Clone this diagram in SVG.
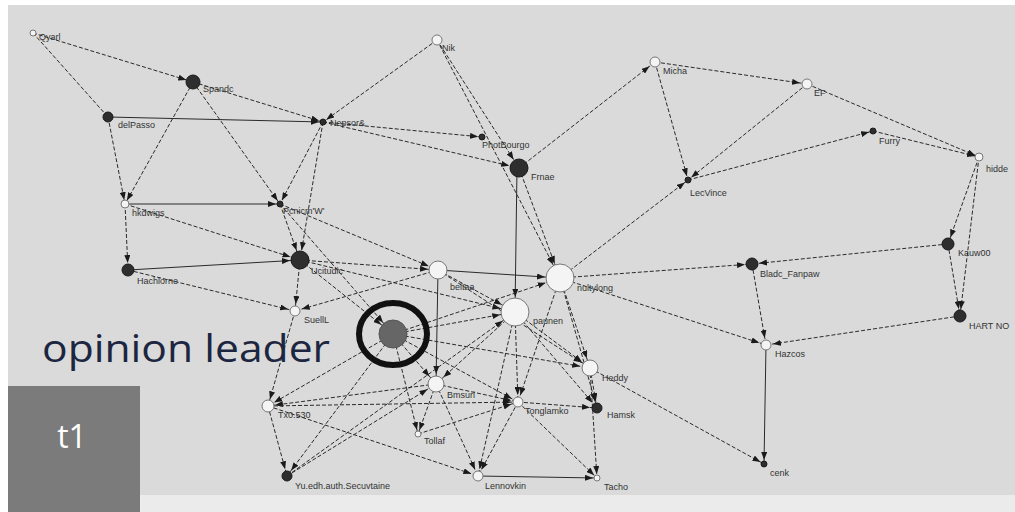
<svg xmlns="http://www.w3.org/2000/svg" width="1015" height="512" viewBox="0 0 1015 512">
<style>
.e{stroke:#2a2a2a;stroke-width:1;fill:none;stroke-dasharray:4 2}
.s{stroke:#2a2a2a;stroke-width:1;fill:none}
.d{fill:#2e2e2e;stroke:#1a1a1a;stroke-width:1}
.w{fill:#f4f4f4;stroke:#777;stroke-width:1}
.l{font-family:"Liberation Sans",Arial,sans-serif;font-size:9px;fill:#333}
</style>
<defs>
<marker id="a4" viewBox="0 0 8 6" refX="12" refY="3" markerWidth="8" markerHeight="6" markerUnits="userSpaceOnUse" orient="auto"><path d="M0,0L8,3L0,6z" fill="#1a1a1a"/></marker>
<marker id="a7" viewBox="0 0 8 6" refX="15" refY="3" markerWidth="8" markerHeight="6" markerUnits="userSpaceOnUse" orient="auto"><path d="M0,0L8,3L0,6z" fill="#1a1a1a"/></marker>
<marker id="a10" viewBox="0 0 8 6" refX="18" refY="3" markerWidth="8" markerHeight="6" markerUnits="userSpaceOnUse" orient="auto"><path d="M0,0L8,3L0,6z" fill="#1a1a1a"/></marker>
<marker id="a15" viewBox="0 0 8 6" refX="23" refY="3" markerWidth="8" markerHeight="6" markerUnits="userSpaceOnUse" orient="auto"><path d="M0,0L8,3L0,6z" fill="#1a1a1a"/></marker>
</defs>
<rect x="0" y="0" width="1015" height="512" fill="#ffffff"/>
<rect x="8" y="5" width="1007" height="490" fill="#dadada"/>
<rect x="8" y="495" width="1007" height="17" fill="#ebebeb"/>
<g id="connectors">
<line class="e" x1="33" y1="33" x2="193" y2="82" marker-end="url(#a7)"/>
<line class="e" x1="33" y1="33" x2="108" y2="117"/>
<line class="e" x1="193" y1="82" x2="323" y2="122" marker-end="url(#a4)"/>
<line class="e" x1="193" y1="82" x2="125" y2="204" marker-end="url(#a4)"/>
<line class="e" x1="193" y1="82" x2="280" y2="204" marker-end="url(#a4)"/>
<line class="s" x1="108" y1="117" x2="323" y2="122" marker-end="url(#a4)"/>
<line class="e" x1="108" y1="117" x2="125" y2="204" marker-end="url(#a4)"/>
<line class="e" x1="125" y1="204" x2="128" y2="270" marker-end="url(#a7)"/>
<line class="e" x1="437" y1="40" x2="323" y2="122" marker-end="url(#a4)"/>
<line class="e" x1="323" y1="122" x2="482" y2="137" marker-end="url(#a4)"/>
<line class="e" x1="323" y1="122" x2="519" y2="168" marker-end="url(#a10)"/>
<line class="e" x1="323" y1="122" x2="280" y2="204" marker-end="url(#a4)"/>
<line class="e" x1="323" y1="122" x2="300" y2="260" marker-end="url(#a10)"/>
<line class="e" x1="437" y1="40" x2="519" y2="168" marker-end="url(#a10)"/>
<line class="e" x1="437" y1="40" x2="560" y2="278" marker-end="url(#a15)"/>
<line class="e" x1="519" y1="168" x2="655" y2="62" marker-end="url(#a7)"/>
<line class="e" x1="655" y1="62" x2="807" y2="84" marker-end="url(#a7)"/>
<line class="e" x1="655" y1="62" x2="688" y2="180" marker-end="url(#a4)"/>
<line class="e" x1="807" y1="84" x2="688" y2="180" marker-end="url(#a4)"/>
<line class="e" x1="807" y1="84" x2="979" y2="157" marker-end="url(#a4)"/>
<line class="e" x1="688" y1="180" x2="873" y2="131" marker-end="url(#a4)"/>
<line class="e" x1="873" y1="131" x2="979" y2="157" marker-end="url(#a4)"/>
<line class="e" x1="560" y1="278" x2="688" y2="180" marker-end="url(#a4)"/>
<line class="e" x1="979" y1="157" x2="948" y2="244" marker-end="url(#a7)"/>
<line class="e" x1="979" y1="157" x2="960" y2="316" marker-end="url(#a7)"/>
<line class="e" x1="948" y1="244" x2="960" y2="316" marker-end="url(#a7)"/>
<line class="e" x1="948" y1="244" x2="752" y2="264" marker-end="url(#a7)"/>
<line class="e" x1="752" y1="264" x2="766" y2="345" marker-end="url(#a7)"/>
<line class="e" x1="560" y1="278" x2="752" y2="264" marker-end="url(#a7)"/>
<line class="e" x1="960" y1="316" x2="766" y2="345" marker-end="url(#a7)"/>
<line class="s" x1="766" y1="345" x2="764" y2="464" marker-end="url(#a4)"/>
<line class="e" x1="560" y1="278" x2="766" y2="345" marker-end="url(#a7)"/>
<line class="e" x1="590" y1="368" x2="764" y2="464" marker-end="url(#a4)"/>
<line class="e" x1="519" y1="168" x2="560" y2="278" marker-end="url(#a15)"/>
<line class="s" x1="517" y1="168" x2="515" y2="312" marker-end="url(#a15)"/>
<line class="s" x1="125" y1="204" x2="280" y2="204" marker-end="url(#a4)"/>
<line class="e" x1="125" y1="204" x2="300" y2="260" marker-end="url(#a10)"/>
<line class="s" x1="128" y1="270" x2="300" y2="260" marker-end="url(#a10)"/>
<line class="e" x1="128" y1="270" x2="295" y2="311" marker-end="url(#a7)"/>
<line class="e" x1="280" y1="204" x2="300" y2="260" marker-end="url(#a10)"/>
<line class="e" x1="280" y1="204" x2="438" y2="270" marker-end="url(#a10)"/>
<line class="e" x1="280" y1="204" x2="393" y2="334" marker-end="url(#a15)"/>
<line class="e" x1="300" y1="260" x2="438" y2="270" marker-end="url(#a10)"/>
<line class="e" x1="300" y1="260" x2="295" y2="311" marker-end="url(#a7)"/>
<line class="e" x1="300" y1="260" x2="515" y2="312" marker-end="url(#a15)"/>
<line class="e" x1="300" y1="260" x2="393" y2="334" marker-end="url(#a15)"/>
<line class="s" x1="438" y1="270" x2="560" y2="278" marker-end="url(#a15)"/>
<line class="e" x1="438" y1="270" x2="515" y2="312" marker-end="url(#a15)"/>
<line class="s" x1="438" y1="270" x2="436" y2="384" marker-end="url(#a10)"/>
<line class="e" x1="438" y1="270" x2="590" y2="368" marker-end="url(#a10)"/>
<line class="e" x1="438" y1="270" x2="295" y2="311" marker-end="url(#a7)"/>
<line class="e" x1="295" y1="311" x2="268" y2="406" marker-end="url(#a7)"/>
<line class="e" x1="393" y1="334" x2="560" y2="278" marker-end="url(#a15)"/>
<line class="e" x1="393" y1="334" x2="515" y2="312" marker-end="url(#a15)"/>
<line class="e" x1="393" y1="334" x2="436" y2="384" marker-end="url(#a10)"/>
<line class="e" x1="393" y1="334" x2="418" y2="434" marker-end="url(#a4)"/>
<line class="e" x1="393" y1="334" x2="268" y2="406" marker-end="url(#a7)"/>
<line class="e" x1="393" y1="334" x2="287" y2="476" marker-end="url(#a7)"/>
<line class="e" x1="393" y1="334" x2="518" y2="402" marker-end="url(#a7)"/>
<line class="e" x1="393" y1="334" x2="590" y2="368" marker-end="url(#a10)"/>
<line class="e" x1="515" y1="312" x2="436" y2="384" marker-end="url(#a10)"/>
<line class="e" x1="515" y1="312" x2="518" y2="402" marker-end="url(#a7)"/>
<line class="e" x1="515" y1="312" x2="597" y2="408" marker-end="url(#a7)"/>
<line class="e" x1="515" y1="312" x2="478" y2="476" marker-end="url(#a7)"/>
<line class="e" x1="515" y1="312" x2="590" y2="368" marker-end="url(#a10)"/>
<line class="e" x1="560" y1="278" x2="590" y2="368" marker-end="url(#a10)"/>
<line class="e" x1="560" y1="278" x2="597" y2="408" marker-end="url(#a7)"/>
<line class="e" x1="560" y1="278" x2="518" y2="402" marker-end="url(#a7)"/>
<line class="e" x1="436" y1="384" x2="268" y2="406" marker-end="url(#a7)"/>
<line class="e" x1="436" y1="384" x2="418" y2="434" marker-end="url(#a4)"/>
<line class="e" x1="436" y1="384" x2="478" y2="476" marker-end="url(#a7)"/>
<line class="e" x1="436" y1="384" x2="518" y2="402" marker-end="url(#a7)"/>
<line class="e" x1="268" y1="406" x2="287" y2="476" marker-end="url(#a7)"/>
<line class="e" x1="268" y1="406" x2="518" y2="402" marker-end="url(#a7)"/>
<line class="e" x1="268" y1="406" x2="478" y2="476" marker-end="url(#a7)"/>
<line class="e" x1="287" y1="476" x2="436" y2="384" marker-end="url(#a10)"/>
<line class="e" x1="287" y1="476" x2="515" y2="312" marker-end="url(#a15)"/>
<line class="e" x1="418" y1="434" x2="518" y2="402" marker-end="url(#a7)"/>
<line class="e" x1="518" y1="402" x2="478" y2="476" marker-end="url(#a7)"/>
<line class="e" x1="518" y1="402" x2="597" y2="408" marker-end="url(#a7)"/>
<line class="e" x1="518" y1="402" x2="597" y2="478" marker-end="url(#a4)"/>
<line class="e" x1="590" y1="368" x2="597" y2="478" marker-end="url(#a4)"/>
<line class="s" x1="478" y1="476" x2="597" y2="478" marker-end="url(#a4)"/>
<line class="e" x1="590" y1="368" x2="597" y2="408" marker-end="url(#a7)"/>
</g>
<g id="n-qyarl"><circle class="w" cx="33" cy="33" r="3"/><text class="l" x="39" y="40">Qyarl</text></g>
<g id="n-spandc"><circle class="d" cx="193" cy="82" r="7"/><text class="l" x="203" y="92">Spandc</text></g>
<g id="n-delpasso"><circle class="d" cx="108" cy="117" r="5"/><text class="l" x="118" y="128">delPasso</text></g>
<g id="n-nepsor"><circle class="d" cx="323" cy="122" r="3"/><text class="l" x="330" y="126">Nepsor&amp;</text></g>
<g id="n-nik"><circle class="w" cx="437" cy="40" r="5"/><text class="l" x="442" y="51">Nik</text></g>
<g id="n-photbourgo"><circle class="d" cx="482" cy="137" r="3"/><text class="l" x="482" y="148">PhotBourgo</text></g>
<g id="n-frnae"><circle class="d" cx="519" cy="168" r="9"/><text class="l" x="531" y="180">Frnae</text></g>
<g id="n-micha"><circle class="w" cx="655" cy="62" r="5"/><text class="l" x="663" y="74">Micha</text></g>
<g id="n-ef"><circle class="w" cx="807" cy="84" r="5"/><text class="l" x="814" y="96">EF</text></g>
<g id="n-furry"><circle class="d" cx="873" cy="131" r="3"/><text class="l" x="879" y="144">Furry</text></g>
<g id="n-hidde"><circle class="w" cx="979" cy="157" r="4"/><text class="l" x="986" y="172">hidde</text></g>
<g id="n-lecvince"><circle class="d" cx="688" cy="180" r="3"/><text class="l" x="690" y="196">LecVince</text></g>
<g id="n-hkdwigs"><circle class="w" cx="125" cy="204" r="4"/><text class="l" x="132" y="216">hkdwigs</text></g>
<g id="n-pcnicm"><circle class="d" cx="280" cy="204" r="3"/><text class="l" x="283" y="214">Pcnicm'W'</text></g>
<g id="n-ucitudic"><circle class="d" cx="300" cy="260" r="9"/><text class="l" x="311" y="274">Ucitudic</text></g>
<g id="n-hachlorne"><circle class="d" cx="128" cy="270" r="6"/><text class="l" x="137" y="284">Hachlorne</text></g>
<g id="n-beltaa"><circle class="w" cx="438" cy="270" r="9"/><text class="l" x="450" y="290">beltaa</text></g>
<g id="n-nultylong"><circle class="w" cx="560" cy="278" r="14"/><text class="l" x="577" y="291">nultylong</text></g>
<g id="n-blade"><circle class="d" cx="752" cy="264" r="6"/><text class="l" x="760" y="277">Bladc_Fanpaw</text></g>
<g id="n-kauw"><circle class="d" cx="948" cy="244" r="6"/><text class="l" x="958" y="256">Kauw00</text></g>
<g id="n-hartno"><circle class="d" cx="960" cy="316" r="6"/><text class="l" x="969" y="329">HART NO</text></g>
<g id="n-paunen"><circle class="w" cx="515" cy="312" r="14"/><text class="l" x="533" y="324">paunen</text></g>
<g id="n-suell"><circle class="w" cx="295" cy="311" r="5"/><text class="l" x="304" y="323">SuellL</text></g>
<g id="n-opinion-leader"><circle class="d" cx="393" cy="334" r="14" style="fill:#666;stroke:#555"/><ellipse cx="393" cy="334" rx="34" ry="31" fill="none" stroke="#111" stroke-width="6"/></g>
<g id="n-hazcos"><circle class="w" cx="766" cy="345" r="5"/><text class="l" x="775" y="357">Hazcos</text></g>
<g id="n-heddy"><circle class="w" cx="590" cy="368" r="8"/><text class="l" x="602" y="381">Heddy</text></g>
<g id="n-bmsuri"><circle class="w" cx="436" cy="384" r="8"/><text class="l" x="447" y="398">Bmsuri</text></g>
<g id="n-tx"><circle class="w" cx="268" cy="406" r="6"/><text class="l" x="278" y="418">Tx0.530</text></g>
<g id="n-tonglamko"><circle class="w" cx="518" cy="402" r="5"/><text class="l" x="525" y="414">Tonglamko</text></g>
<g id="n-hamsk"><circle class="d" cx="597" cy="408" r="5"/><text class="l" x="607" y="418">Hamsk</text></g>
<g id="n-tollaf"><circle class="w" cx="418" cy="434" r="3"/><text class="l" x="424" y="444">Tollaf</text></g>
<g id="n-yuedh"><circle class="d" cx="287" cy="476" r="5"/><text class="l" x="295" y="489">Yu.edh.auth.Secuvtaine</text></g>
<g id="n-lennovkin"><circle class="w" cx="478" cy="476" r="5"/><text class="l" x="485" y="489">Lennovkin</text></g>
<g id="n-tacho"><circle class="w" cx="597" cy="478" r="3"/><text class="l" x="604" y="490">Tacho</text></g>
<g id="n-cenk"><circle class="d" cx="764" cy="464" r="3"/><text class="l" x="770" y="476">cenk</text></g>
<text x="42" y="362" font-family="'Open Sans','Liberation Sans',sans-serif" font-size="38" fill="#1c2640" textLength="288" lengthAdjust="spacingAndGlyphs">opinion leader</text>
<g id="t1-box"><rect x="8" y="386" width="132" height="126" fill="#7b7b7b"/><text x="72" y="448" text-anchor="middle" font-family="'Open Sans','Liberation Sans',sans-serif" font-size="32" fill="#ffffff">t1</text></g>
</svg>
